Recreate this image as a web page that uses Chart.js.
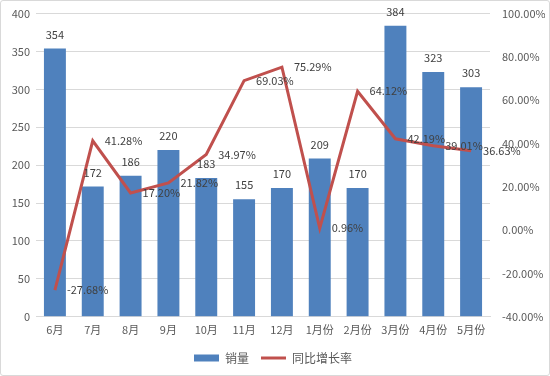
<!DOCTYPE html>
<html>
<head>
<meta charset="utf-8">
<script src="https://cdn.jsdelivr.net/npm/chart.js@4"></script>
<style>
  html, body { margin: 0; padding: 0; background: #fff; }
  #wrap { position: relative; width: 548px; height: 374px; border: 1px solid #d9d9d9; border-radius: 3px; }
</style>
</head>
<body>
<div id="wrap"><canvas id="salesChart" width="548" height="374"></canvas></div>
<script>
const months = ['6月', '7月', '8月', '9月', '10月', '11月', '12月', '1月份', '2月份', '3月份', '4月份', '5月份'];
const sales = [354, 172, 186, 220, 183, 155, 170, 209, 170, 384, 323, 303];
const growth = [-27.68, 41.28, 17.20, 21.82, 34.97, 69.03, 75.29, 0.96, 64.12, 42.19, 39.01, 36.63];

const FONT = "'Noto Sans CJK SC', 'Noto Sans', sans-serif";

// value labels: bars above, line points to the right
const valueLabels = {
    id: 'valueLabels',
    afterDatasetsDraw(chart) {
        const ctx = chart.ctx;
        ctx.save();
        ctx.font = '11px ' + FONT;
        ctx.fillStyle = '#404040';
        ctx.textBaseline = 'middle';
        chart.getDatasetMeta(0).data.forEach((bar, i) => {
            ctx.textAlign = 'center';
            ctx.fillText(sales[i], bar.x, bar.y - 14);
        });
        chart.getDatasetMeta(1).data.forEach((pt, i) => {
            ctx.textAlign = 'left';
            ctx.fillText(growth[i].toFixed(2) + '%', pt.x + 12, pt.y);
        });
        ctx.restore();
    }
};

new Chart(document.getElementById('salesChart'), {
    type: 'bar',
    data: {
        labels: months,
        datasets: [
            { label: '销量', data: sales, backgroundColor: '#4F81BD', yAxisID: 'y', order: 2,
              categoryPercentage: 1, barPercentage: 0.58, pointStyle: 'rect' },
            { label: '同比增长率', type: 'line', data: growth, borderColor: '#C0504D', backgroundColor: '#C0504D',
              borderWidth: 3, pointRadius: 0, tension: 0, yAxisID: 'y1', order: 1, pointStyle: 'line' }
        ]
    },
    options: {
        responsive: false,
        animation: false,
        layout: { padding: { top: 2, left: 0, right: 4, bottom: 1 } },
        plugins: {
            tooltip: { enabled: false },
            legend: {
                position: 'bottom',
                labels: { usePointStyle: true, pointStyleWidth: 25, boxHeight: 7, padding: 12,
                    color: '#595959', font: { family: FONT, size: 12 },
                    sort: (a, b) => a.datasetIndex - b.datasetIndex }
            }
        },
        scales: {
            x: {
                grid: { display: false },
                border: { color: '#d9d9d9' },
                ticks: { color: '#595959', font: { family: FONT, size: 11 }, padding: -2 },
                afterFit(s) { s.height += 6; }
            },
            y: {
                position: 'left', min: 0, max: 400,
                grid: { color: '#d9d9d9', drawTicks: false },
                border: { display: false },
                ticks: { stepSize: 50, color: '#595959', font: { family: FONT, size: 11 }, padding: 6 },
                afterFit(s) { s.width = 35; }
            },
            y1: {
                position: 'right', min: -40, max: 100,
                grid: { display: false },
                border: { display: false },
                ticks: { stepSize: 20, color: '#595959', font: { family: FONT, size: 11 }, padding: 4,
                    callback: v => v.toFixed(2) + '%' },
                afterFit(s) { s.width = 55; }
            }
        }
    },
    plugins: [valueLabels]
});
</script>
</body>
</html>
